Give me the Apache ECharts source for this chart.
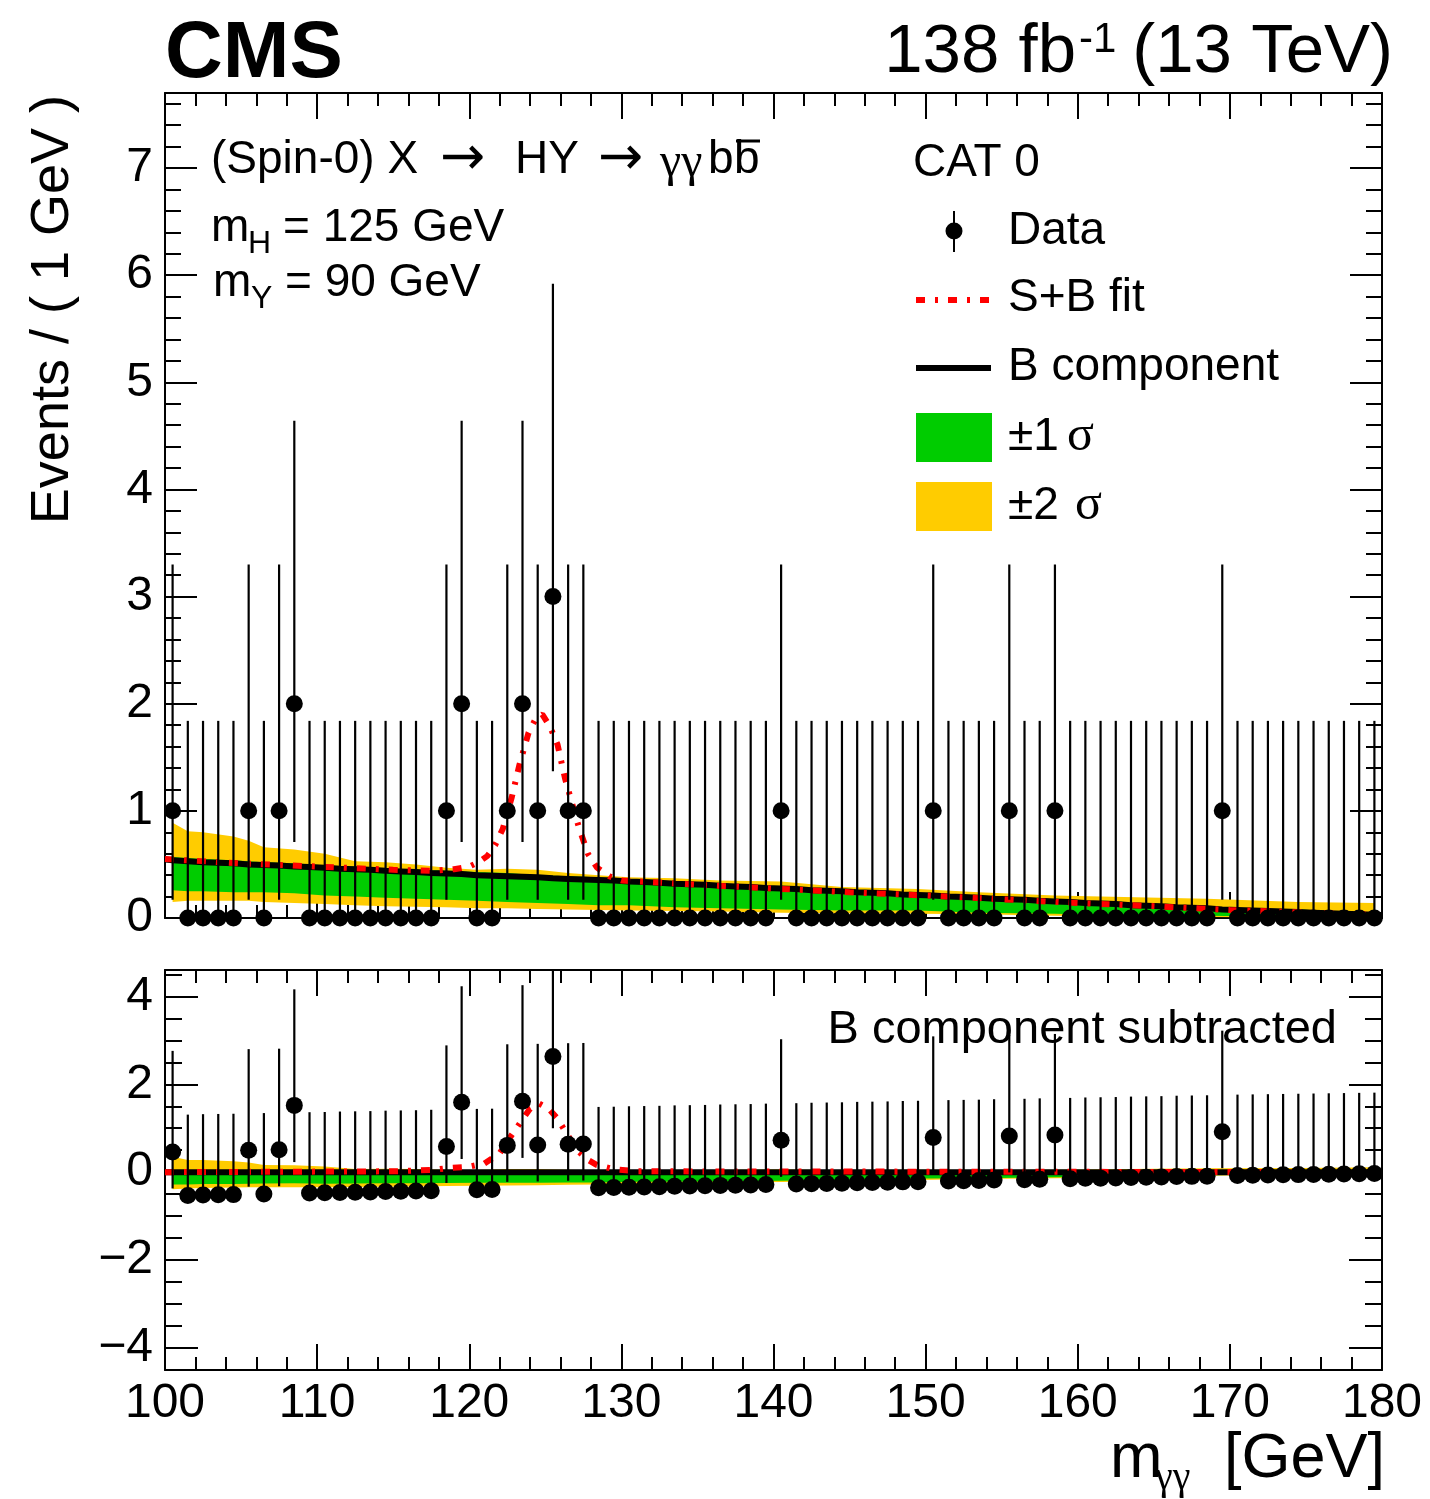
<!DOCTYPE html>
<html><head><meta charset="utf-8">
<script src="https://cdn.jsdelivr.net/npm/echarts@6/dist/echarts.min.js"></script>
<style>html,body{margin:0;padding:0;background:#fff}#c{width:1430px;height:1499px}</style>
</head><body><div id="c"></div>
<script>
// ---------------- data ----------------
const binLow = 100, binWidth = 1;
const counts = [1,0,0,0,0,1,0,1,2,0, 0,0,0,0,0,0,0,0,1,2, 0,0,1,2,1,3,1,1,0,0,
                0,0,0,0,0,0,0,0,0,0, 1,0,0,0,0,0,0,0,0,0, 1,0,0,0,0,1,0,0,1,0,
                0,0,0,0,0,0,0,0,0,1, 0,0,0,0,0,0,0,0,0,0];
// B component evaluated at each bin centre
const bkg = [0.54,0.53,0.52,0.515,0.51,0.50,0.495,0.49,0.48,0.475,
             0.47,0.46,0.455,0.45,0.44,0.435,0.43,0.42,0.415,0.41,
             0.40,0.395,0.39,0.385,0.38,0.37,0.365,0.36,0.355,0.35,
             0.34,0.335,0.33,0.32,0.315,0.31,0.30,0.295,0.29,0.28,
             0.275,0.27,0.26,0.255,0.25,0.24,0.235,0.23,0.22,0.215,
             0.21,0.20,0.195,0.19,0.18,0.175,0.17,0.16,0.155,0.15,
             0.14,0.135,0.13,0.12,0.115,0.11,0.10,0.095,0.09,0.08,
             0.075,0.07,0.065,0.06,0.055,0.05,0.045,0.04,0.035,0.03];
const bkgEnds = [0.545, 0.028];          // B at 100 and 180 GeV
const poisLo = [0, 0.17, 0.71, 1.37];     // error bar ends by count
const poisHi = [1.84, 3.30, 4.64, 5.92];
// uncertainty bands (at bin centres)
const bandX   = [100.5,101.5,102.5,104.5,105.5,106.5,108.5,110.5,112.5,114.5,116.5,118.5,120.5,122.5,124.5,126.5,128.5,130.5,133.5,136.5,140.5,144.5,149.5,153.5,158.5,161.5,168.5,174.5,179.5];
const band2Lo = [0.15,0.16,0.16,0.16,0.16,0.15,0.14,0.13,0.12,0.11,0.105,0.10,0.09,0.09,0.085,0.08,0.075,0.07,0.065,0.06,0.05,0.045,0.04,0.035,0.02,0.015,0.01,0.005,0.0];
const band1Lo = [0.26,0.25,0.25,0.24,0.24,0.24,0.23,0.21,0.20,0.19,0.18,0.17,0.16,0.15,0.14,0.13,0.12,0.12,0.10,0.09,0.08,0.07,0.07,0.05,0.04,0.03,0.02,0.01,0.01];
const band1Hi = [0.57,0.56,0.55,0.54,0.53,0.52,0.51,0.49,0.48,0.46,0.45,0.44,0.43,0.42,0.40,0.39,0.38,0.36,0.34,0.32,0.29,0.27,0.23,0.20,0.17,0.15,0.10,0.08,0.05];
const band2Hi = [0.89,0.81,0.80,0.76,0.72,0.66,0.64,0.60,0.53,0.52,0.50,0.47,0.45,0.46,0.45,0.42,0.40,0.38,0.37,0.35,0.34,0.29,0.27,0.24,0.21,0.20,0.18,0.15,0.14];
// S+B fit
const sbX = [100,105,110,115,117.5,119,120,120.6,121.2,121.7,122.2,122.8,123.3,123.9,124.4,124.8,125.3,125.8,126.3,126.8,127.2,127.8,128.4,129.2,130,135,140,145,150,155,160,165,170,175,180];
const sbY = [0.55,0.51,0.48,0.45,0.44,0.455,0.48,0.52,0.58,0.68,0.83,1.13,1.43,1.73,1.87,1.90,1.79,1.62,1.30,1.05,0.85,0.60,0.47,0.39,0.35,0.31,0.275,0.24,0.21,0.175,0.14,0.11,0.075,0.05,0.03];
// S+B fit with B component subtracted
const sbSubX = [100,115,117.5,118.5,119.9,121,122,122.6,123.3,124,124.6,125.2,125.8,126.4,127.1,127.8,128.4,129.5,131,180];
const sbSubY = [0.0,0.02,0.05,0.09,0.12,0.2,0.43,0.75,1.1,1.45,1.56,1.45,1.22,0.88,0.5,0.28,0.16,0.07,0.02,0.0];
const yTicksBottom = [-4,-2,0,2,4];

// ---------------- helpers ----------------
const centres = counts.map((_, i) => binLow + binWidth * (i + 0.5));
const sans = '"Liberation Sans", Arial, Helvetica, sans-serif';
const serif = '"Liberation Serif", "Times New Roman", serif';
const BLACK = '#000', GREEN = '#00cc00', YELLOW = '#ffcc00', RED = '#ff0000';
const bkgAt = x => bkg[Math.round((x - binLow) / binWidth - 0.5)];

function xAx(grid, pos, showLabel) {
  return {type:'value', gridIndex:grid, position:pos, min:100, max:180, interval:10,
    axisLine:{show:true, onZero:false, lineStyle:{color:BLACK, width:2}},
    axisTick:{show:true, inside:true, length:26, lineStyle:{color:BLACK, width:2}},
    minorTick:{show:true, splitNumber:5, length:13, lineStyle:{color:BLACK, width:2}},
    axisLabel:{show:showLabel, color:BLACK, fontSize:48, fontFamily:sans, margin:10},
    splitLine:{show:false}, minorSplitLine:{show:false}, axisPointer:{show:false}};
}
function yAx(grid, pos, min, max, opt) {
  const a = {type:'value', gridIndex:grid, position:pos, min, max,
    axisLine:{show:!!opt.line, onZero:false, lineStyle:{color:BLACK, width:2}},
    axisTick:{show:true, inside:true, length:opt.len, lineStyle:{color:BLACK, width:2}},
    axisLabel:{show:!!opt.label, color:BLACK, fontSize:48, fontFamily:sans, margin:12,
               showMaxLabel:false,
               formatter: v => String(v).replace('-', '\u2212')},
    splitLine:{show:false}, axisPointer:{show:false}};
  if (opt.interval) a.interval = opt.interval;
  if (opt.custom) { a.axisTick.customValues = opt.custom; a.axisLabel.customValues = opt.custom; a.axisLabel.showMaxLabel = true; }
  return a;
}
function band(xi, yi, lo, hi, color, z) {
  return {type:'custom', xAxisIndex:xi, yAxisIndex:yi, silent:true, z, clip:true,
    data:[[bandX[0], lo[0]]],
    renderItem:(p, api) => {
      const pts = [];
      for (let k = 0; k < bandX.length; k++) pts.push(api.coord([bandX[k], hi[k]]));
      for (let k = bandX.length - 1; k >= 0; k--) pts.push(api.coord([bandX[k], lo[k]]));
      return {type:'polygon', shape:{points:pts}, style:{fill:color}};
    }};
}
function errBars(xi, yi, shift) {
  return {type:'custom', xAxisIndex:xi, yAxisIndex:yi, silent:true, z:6, clip:true,
    encode:{x:0, y:[1,2]},
    data: centres.map((x, i) => [x, poisLo[counts[i]] - shift[i], poisHi[counts[i]] - shift[i]]),
    renderItem:(p, api) => {
      const a = api.coord([api.value(0), api.value(1)]);
      const b = api.coord([api.value(0), api.value(2)]);
      return {type:'line', shape:{x1:a[0], y1:a[1], x2:b[0], y2:b[1]}, style:{stroke:BLACK, lineWidth:2.2}};
    }};
}
function markers(xi, yi, shift) {
  return {type:'scatter', xAxisIndex:xi, yAxisIndex:yi, silent:true, z:7, symbol:'circle', symbolSize:17,
    itemStyle:{color:BLACK, opacity:1}, emphasis:{disabled:true},
    data: centres.map((x, i) => [x, counts[i] - shift[i]])};
}
const zeros = counts.map(() => 0);
const bandSub = arr => arr.map((v, k) => v - bkgAt(bandX[k]));

// ---------------- graphic text ----------------
function T(x, y, text, size, o = {}) {
  return {type:'text', x, y, z:100, rotation:o.rot || 0, silent:true,
    style:{text, font:`${o.bold ? 'bold ' : ''}${size}px ${o.font || (o.serif ? serif : sans)}`, fill:BLACK,
           textAlign:o.align || 'left', textVerticalAlign:'middle'}};
}
const arrowFont = '"DejaVu Sans", sans-serif';
const gfx = [
  T(165, 55, 'CMS', 80, {bold:true}),
  T(1076, 53, '138 fb', 69, {align:'right'}),
  T(1079, 40, '-1', 42),
  T(1393, 53, '(13 TeV)', 69, {align:'right'}),
  T(53, 95, 'Events / ( 1 GeV )', 54, {align:'right', rot:Math.PI/2}),
  T(1110, 1460, 'm', 63),
  T(1155, 1478, '\u03b3\u03b3', 40, {serif:true}),
  T(1385, 1460, '[GeV]', 63, {align:'right'}),
  // annotation
  T(211, 160, '(Spin-0) X', 46),
  T(440, 160, '\u2192', 54, {font:arrowFont}),
  T(515, 160, 'HY', 46),
  T(598, 160, '\u2192', 54, {font:arrowFont}),
  T(660, 163, '\u03b3\u03b3', 48, {serif:true}),
  T(708, 160, 'b', 46),
  T(734, 160, 'b', 46),
  {type:'line', z:100, silent:true, shape:{x1:736, y1:141, x2:760, y2:141}, style:{stroke:BLACK, lineWidth:3}},
  T(211, 228, 'm', 46),
  T(248, 244, 'H', 32),
  T(283, 228, '= 125 GeV', 46),
  T(213, 283, 'm', 46),
  T(251, 299, 'Y', 32),
  T(285, 283, '= 90 GeV', 46),
  // legend
  T(913, 163, 'CAT 0', 46),
  {type:'line', z:100, silent:true, shape:{x1:954, y1:211, x2:954, y2:252}, style:{stroke:BLACK, lineWidth:2}},
  {type:'circle', z:100, silent:true, shape:{cx:954, cy:231, r:8.5}, style:{fill:BLACK}},
  T(1008, 231, 'Data', 46),
  {type:'line', z:100, silent:true, shape:{x1:916, y1:300, x2:990, y2:300}, style:{stroke:RED, lineWidth:6, lineDash:[9,10,3,10]}},
  T(1008, 298, 'S+B fit', 46),
  {type:'line', z:100, silent:true, shape:{x1:916, y1:368, x2:991, y2:368}, style:{stroke:BLACK, lineWidth:6}},
  T(1008, 367, 'B component', 46),
  {type:'rect', z:100, silent:true, shape:{x:916, y:413, width:76, height:49}, style:{fill:GREEN}},
  T(1008, 437, '\u00b11', 46),
  T(1067, 437, '\u03c3', 50, {serif:true}),
  {type:'rect', z:100, silent:true, shape:{x:916, y:482, width:76, height:49}, style:{fill:YELLOW}},
  T(1008, 506, '\u00b12', 46),
  T(1075, 506, '\u03c3', 50, {serif:true}),
  T(1337, 1030, 'B component subtracted', 47, {align:'right'})
];

// ---------------- chart ----------------
const chart = echarts.init(document.getElementById('c'), null, {renderer:'canvas'});
chart.setOption({
  animation:false,
  backgroundColor:'#fff',
  grid:[
    {left:165, top:93, width:1217, height:825, containLabel:false, outerBoundsMode:'none'},
    {left:165, top:970, width:1217, height:400, containLabel:false, outerBoundsMode:'none'}
  ],
  xAxis:[xAx(0,'bottom',false), xAx(0,'top',false), xAx(1,'bottom',true), xAx(1,'top',false)],
  yAxis:[
    yAx(0,'left',0,7.7,{line:true,label:true,len:32,interval:1}),
    yAx(0,'left',0,7.7,{len:16,interval:0.2}),
    yAx(0,'right',0,7.7,{line:true,len:32,interval:1}),
    yAx(0,'right',0,7.7,{len:16,interval:0.2}),
    yAx(1,'left',-4.5,4.6,{line:true,label:true,len:33,custom:yTicksBottom}),
    yAx(1,'left',-4.5,4.6,{len:17,interval:0.5}),
    yAx(1,'right',-4.5,4.6,{line:true,len:33,custom:yTicksBottom}),
    yAx(1,'right',-4.5,4.6,{len:17,interval:0.5})
  ],
  series:[
    band(0,0,band2Lo,band2Hi,YELLOW,1),
    band(0,0,band1Lo,band1Hi,GREEN,2),
    {type:'line', xAxisIndex:0, yAxisIndex:0, z:3, silent:true, showSymbol:false, symbol:'none',
     lineStyle:{color:BLACK, width:6},
     data:[[binLow, bkgEnds[0]], ...centres.map((x,i)=>[x,bkg[i]]), [binLow + binWidth*counts.length, bkgEnds[1]]]},
    {type:'line', xAxisIndex:0, yAxisIndex:0, z:4, silent:true, showSymbol:false, symbol:'none',
     lineStyle:{color:RED, width:6, type:[9,10,3,10], cap:'butt'},
     data:sbX.map((x,i)=>[x,sbY[i]])},
    errBars(0,0,zeros),
    markers(0,0,zeros),
    band(2,4,bandSub(band2Lo),bandSub(band2Hi),YELLOW,1),
    band(2,4,bandSub(band1Lo),bandSub(band1Hi),GREEN,2),
    {type:'line', xAxisIndex:2, yAxisIndex:4, z:3, silent:true, showSymbol:false, symbol:'none',
     lineStyle:{color:BLACK, width:6},
     data:[[binLow, bkgEnds[0]-bkgEnds[0]], ...centres.map((x,i)=>[x,bkg[i]-bkg[i]]), [binLow + binWidth*counts.length, bkgEnds[1]-bkgEnds[1]]]},
    {type:'line', xAxisIndex:2, yAxisIndex:4, z:4, silent:true, showSymbol:false, symbol:'none',
     lineStyle:{color:RED, width:6, type:[9,10,3,10], cap:'butt'},
     data:sbSubX.map((x,i)=>[x,sbSubY[i]])},
    errBars(2,4,bkg),
    markers(2,4,bkg)
  ],
  graphic:{elements:gfx}
});
</script></body></html>
